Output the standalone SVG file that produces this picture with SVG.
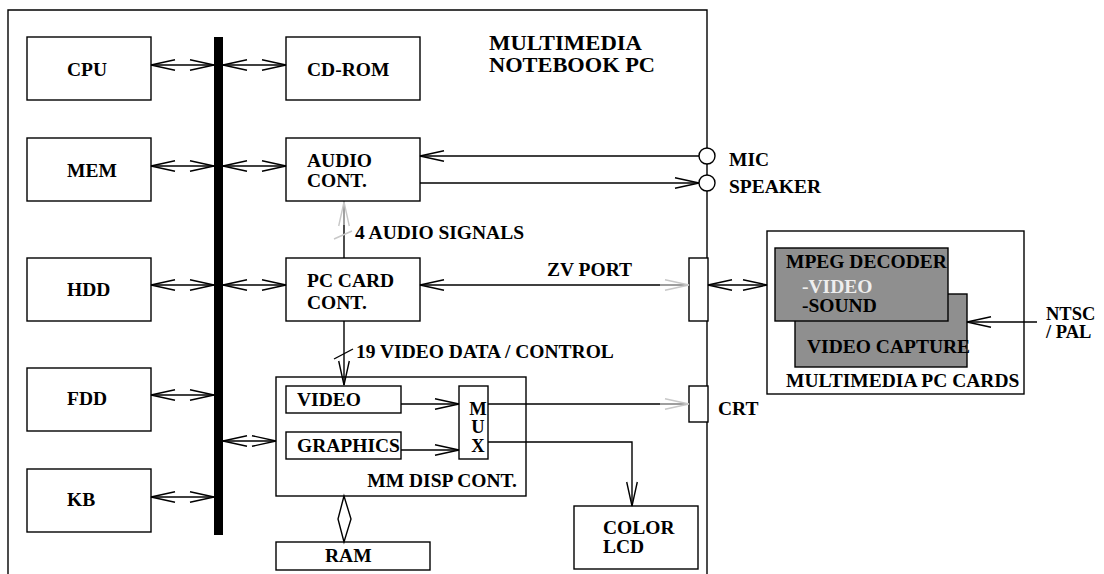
<svg xmlns="http://www.w3.org/2000/svg" width="1104" height="574" viewBox="0 0 1104 574">
<style>
text{font-family:"Liberation Serif","Times New Roman",serif;font-weight:bold;font-size:19.5px;fill:#000}
.title{font-size:21.5px}
.mux{font-size:18.5px}
.sm{font-size:18.5px}
.box{fill:#fff;stroke:#000;stroke-width:1.4}
.card{fill:#8f8f8f;stroke:#000;stroke-width:1.4}
.ln{fill:none;stroke:#000;stroke-width:1.4}
.lt{fill:none;stroke:#c8c8c8;stroke-width:1.4}
</style>
<defs>
<marker id="ah" markerUnits="userSpaceOnUse" markerWidth="30" markerHeight="14" viewBox="-26 -7 28 14" refX="0" refY="0" orient="auto-start-reverse" overflow="visible">
<path d="M-24,-5.3 L0,0 L-24,5.3" fill="none" stroke="#000" stroke-width="1.4"/>
</marker>
<marker id="ahg" markerUnits="userSpaceOnUse" markerWidth="30" markerHeight="14" viewBox="-26 -7 28 14" refX="0" refY="0" orient="auto-start-reverse" overflow="visible">
<path d="M-24,-5.3 L0,0 L-24,5.3" fill="none" stroke="#c8c8c8" stroke-width="1.4"/>
</marker>
</defs>
<rect width="1104" height="574" fill="#fff"/>
<g id="notebook">
<path class="ln" d="M8,580 V10 H707 V580"/>
<text class="title" x="489" y="50" textLength="153" lengthAdjust="spacingAndGlyphs">MULTIMEDIA</text>
<text class="title" x="489" y="72" textLength="166" lengthAdjust="spacingAndGlyphs">NOTEBOOK PC</text>
</g>
<g id="bus"><rect x="214" y="37" width="9" height="498" fill="#000"/></g>
<g id="cpu"><rect class="box" x="27" y="37" width="124" height="63"/><text x="67" y="76">CPU</text></g>
<g id="mem"><rect class="box" x="27" y="138" width="124" height="63"/><text x="67" y="177">MEM</text></g>
<g id="hdd"><rect class="box" x="27" y="258" width="124" height="63"/><text x="67" y="296">HDD</text></g>
<g id="fdd"><rect class="box" x="27" y="368" width="124" height="63"/><text x="67" y="405">FDD</text></g>
<g id="kb"><rect class="box" x="27" y="469" width="124" height="63"/><text x="67" y="506">KB</text></g>
<g id="cdrom"><rect class="box" x="286" y="37" width="134" height="63"/><text x="307" y="76">CD-ROM</text></g>
<g id="audio"><rect class="box" x="286" y="138" width="134" height="63"/><text x="307" y="167">AUDIO</text><text x="307" y="187">CONT.</text></g>
<g id="pccard"><rect class="box" x="286" y="258" width="134" height="63"/><text x="307" y="287">PC CARD</text><text x="307" y="309">CONT.</text></g>
<g id="mmdisp"><rect class="box" x="276" y="377" width="250" height="119"/><text x="517" y="487" text-anchor="end">MM DISP CONT.</text></g>
<g id="video"><rect class="box" x="286" y="386" width="115" height="27"/><text x="297" y="406">VIDEO</text></g>
<g id="graphics"><rect class="box" x="286" y="432" width="115" height="27"/><text x="297" y="452">GRAPHICS</text></g>
<g id="mux"><rect class="box" x="459" y="386" width="29" height="73"/><text class="mux" x="478" y="415" text-anchor="middle">M</text><text class="mux" x="478" y="433" text-anchor="middle">U</text><text class="mux" x="478" y="452" text-anchor="middle">X</text></g>
<g id="ram"><rect class="box" x="276" y="542" width="154" height="28"/><text x="325" y="562">RAM</text></g>
<g id="lcd"><rect class="box" x="574" y="506" width="124" height="63"/><text x="603" y="534">COLOR</text><text x="603" y="553">LCD</text></g>
<g id="zvport"><rect class="box" x="689" y="258" width="19" height="63"/></g>
<g id="crt"><rect class="box" x="689" y="386" width="19" height="36"/><text x="718" y="415">CRT</text></g>
<g id="mic"><circle class="box" cx="707" cy="156" r="8"/><text x="729" y="166">MIC</text></g>
<g id="speaker"><circle class="box" cx="707" cy="183" r="8"/><text x="729" y="193">SPEAKER</text></g>
<g id="cards">
<rect class="box" x="767" y="231" width="257" height="163"/>
<rect class="card" x="795" y="294" width="172" height="73"/>
<rect class="card" x="775" y="248" width="173" height="73"/>
<text x="786" y="268">MPEG DECODER</text>
<text x="802" y="293" style="fill:#eeeeee">-VIDEO</text>
<text x="802" y="312">-SOUND</text>
<text x="807" y="353">VIDEO CAPTURE</text>
<text x="786" y="387">MULTIMEDIA PC CARDS</text>
</g>
<g id="ntsc"><text class="sm" x="1046" y="320">NTSC</text><text class="sm" x="1046" y="338">/ PAL</text></g>
<g id="connectors">
<line class="ln" x1="151" y1="65" x2="214" y2="65" marker-start="url(#ah)" marker-end="url(#ah)"/>
<line class="ln" x1="223" y1="65" x2="286" y2="65" marker-start="url(#ah)" marker-end="url(#ah)"/>
<line class="ln" x1="151" y1="166" x2="214" y2="166" marker-start="url(#ah)" marker-end="url(#ah)"/>
<line class="ln" x1="223" y1="166" x2="286" y2="166" marker-start="url(#ah)" marker-end="url(#ah)"/>
<line class="ln" x1="151" y1="285" x2="214" y2="285" marker-start="url(#ah)" marker-end="url(#ah)"/>
<line class="ln" x1="223" y1="285" x2="286" y2="285" marker-start="url(#ah)" marker-end="url(#ah)"/>
<line class="ln" x1="151" y1="395" x2="214" y2="395" marker-start="url(#ah)" marker-end="url(#ah)"/>
<line class="ln" x1="223" y1="441" x2="276" y2="441" marker-start="url(#ah)" marker-end="url(#ah)"/>
<line class="ln" x1="151" y1="497" x2="214" y2="497" marker-start="url(#ah)" marker-end="url(#ah)"/>
<line class="ln" x1="699" y1="156" x2="420" y2="156" marker-end="url(#ah)"/>
<line class="ln" x1="420" y1="183" x2="699" y2="183" marker-end="url(#ah)"/>
<line class="ln" x1="344" y1="258" x2="344" y2="201"/>
<line class="lt" x1="344" y1="225" x2="344" y2="202" marker-end="url(#ahg)"/>
<line class="lt" x1="334" y1="239" x2="352" y2="231"/>
<line class="ln" x1="689" y1="285" x2="420" y2="285" marker-end="url(#ah)"/>
<line class="lt" x1="660" y1="285" x2="689" y2="285" marker-end="url(#ahg)"/>
<line class="ln" x1="708" y1="285" x2="767" y2="285" marker-start="url(#ah)" marker-end="url(#ah)"/>
<line class="ln" x1="344" y1="321" x2="344" y2="385" marker-end="url(#ah)"/>
<line class="ln" x1="334" y1="359" x2="353" y2="349"/>
<line class="ln" x1="401" y1="404" x2="459" y2="404" marker-end="url(#ah)"/>
<line class="ln" x1="401" y1="450" x2="459" y2="450" marker-end="url(#ah)"/>
<line class="ln" x1="488" y1="404" x2="689" y2="404"/>
<line class="lt" x1="660" y1="404" x2="689" y2="404" marker-end="url(#ahg)"/>
<path class="ln" d="M488,442 H632 V506" marker-end="url(#ah)"/>
<path class="ln" d="M344,496 L338,519 L344,542 L351,519 Z"/>
<line class="ln" x1="1037" y1="322" x2="967" y2="322" marker-end="url(#ah)"/>
<text x="355" y="239">4 AUDIO SIGNALS</text>
<text x="547" y="276">ZV PORT</text>
<text x="356" y="358">19  VIDEO DATA / CONTROL</text>
</g>
</svg>
